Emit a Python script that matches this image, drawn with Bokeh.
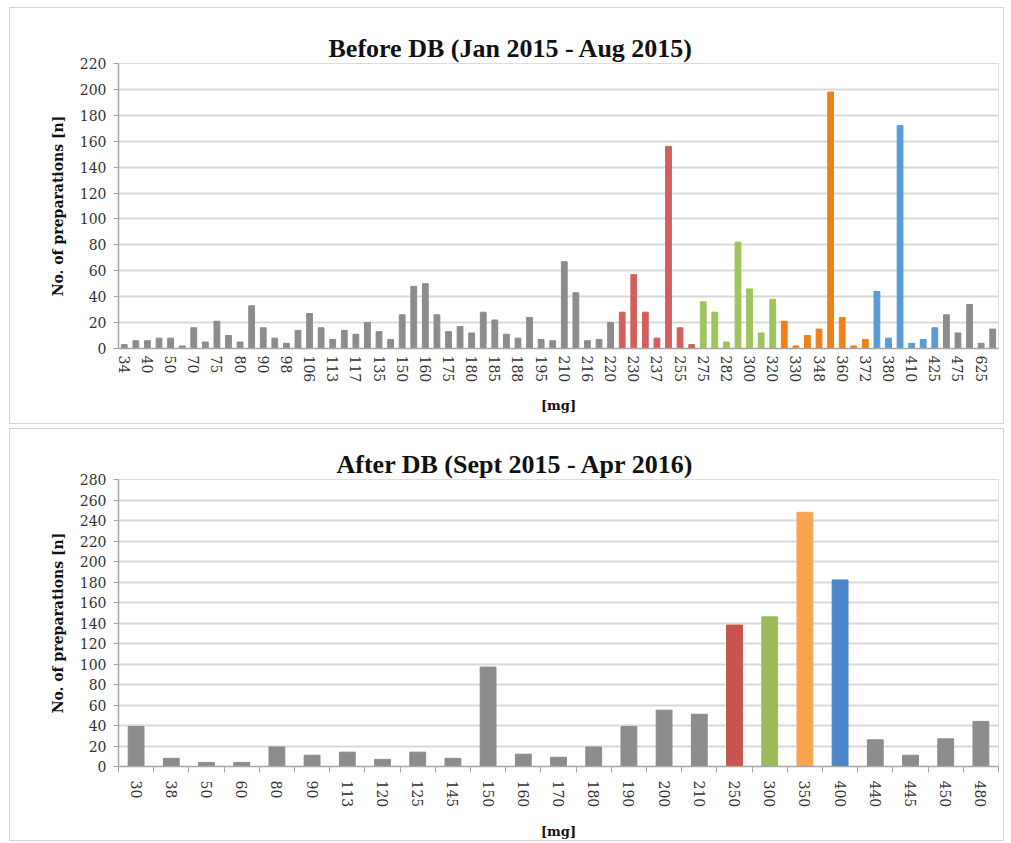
from bokeh.plotting import figure
from bokeh.layouts import column, row
from bokeh.models import FixedTicker, ColumnDataSource, Spacer, Range1d
from bokeh.embed import file_html
from bokeh.resources import INLINE

# ---------------- data: Before DB ----------------
before_values = [3, 6, 6, 8, 8, 2, 16, 5, 21, 10, 5, 33, 16, 8, 4, 14, 27, 16, 7, 14,
                 11, 20, 13, 7, 26, 48, 50, 26, 13, 17, 12, 28, 22, 11, 8, 24, 7, 6, 67, 43,
                 6, 7, 20, 28, 57, 28, 8, 156, 16, 3, 36, 28, 5, 82, 46, 12, 38, 21, 2, 10,
                 15, 198, 24, 2, 7, 44, 8, 172, 4, 7, 16, 26, 12, 34, 4, 15]
before_groups = (["gray"] * 43 + ["red"] * 7 + ["green"] * 7 + ["orange"] * 8
                 + ["blue"] * 6 + ["gray"] * 5)
before_tick_labels = ["34", "40", "50", "70", "75", "80", "90", "98", "106", "113", "117",
                      "135", "150", "160", "175", "180", "185", "188", "195", "210", "216",
                      "220", "230", "237", "255", "275", "282", "300", "320", "330", "348",
                      "360", "372", "380", "410", "425", "475", "625"]

# ---------------- data: After DB ----------------
after_categories = ["30", "38", "50", "60", "80", "90", "113", "120", "125", "145", "150",
                    "160", "170", "180", "190", "200", "210", "250", "300", "350", "400",
                    "440", "445", "450", "480"]
after_values = [39, 8, 4, 4, 19, 11, 14, 7, 14, 8, 97, 12, 9, 19, 39, 55, 51, 138, 146,
                248, 182, 26, 11, 27, 44]
after_groups = ["gray"] * 17 + ["red", "green", "orange", "blue"] + ["gray"] * 4

colors_before = {"gray": "#8c8c8c", "red": "#d0605e", "green": "#9fc45c",
                 "orange": "#f08119", "blue": "#5b9bd5"}
colors_after = {"gray": "#8c8c8c", "red": "#c9544f", "green": "#9bbb59",
                "orange": "#f9a550", "blue": "#4a86c8"}

TICK_FONT = "DejaVu Serif"
GRID = "#d9d9d9"
AXIS = "#a6a6a6"


def style(p, ymax, title_offset):
    p.y_range = Range1d(0, ymax)
    p.yaxis.ticker = FixedTicker(ticks=list(range(0, ymax + 1, 20)))
    p.title.align = "left"
    p.title.offset = title_offset
    p.title.text_font = "Liberation Serif"
    p.title.text_font_style = "bold"
    p.title.text_font_size = "26px"
    p.title.text_color = "#111111"
    p.title.standoff = 2
    p.xgrid.grid_line_color = None
    p.ygrid.grid_line_color = GRID
    p.ygrid.grid_line_width = 2
    p.outline_line_color = "#dddddd"
    for ax in (p.xaxis[0], p.yaxis[0]):
        ax.axis_line_color = AXIS
        ax.axis_line_width = 1.5
        ax.major_label_text_font = TICK_FONT
        ax.major_label_text_font_size = "14px"
        ax.major_label_text_color = "#333333"
        ax.axis_label_text_font = "DejaVu Serif"
        ax.axis_label_text_font_style = "bold"
        ax.axis_label_text_color = "#111111"
        ax.minor_tick_line_color = None
    p.yaxis.major_tick_line_color = AXIS
    p.yaxis.major_tick_out = 5
    p.yaxis.major_tick_in = 0
    p.yaxis.major_label_standoff = 7
    p.yaxis.axis_label = "No. of preparations [n]"
    p.yaxis.axis_label_text_font_size = "14px"
    p.yaxis.axis_label_standoff = 11
    p.xaxis.axis_label = "[mg]"
    p.xaxis.axis_label_text_font_size = "13px"
    p.xaxis.major_label_orientation = "vertical"


panel_style = {"border": "1px solid #d4d4d4"}

# ---------------- top figure ----------------
src1 = ColumnDataSource(dict(x=list(range(len(before_values))), top=before_values,
                             color=[colors_before[g] for g in before_groups]))
p1 = figure(width=995, height=417, output_backend="svg", toolbar_location=None,
            title="Before DB (Jan 2015 - Aug 2015)",
            x_range=Range1d(-0.5, len(before_values) - 0.5),
            min_border_left=108, min_border_right=7, min_border_top=55, min_border_bottom=77,
            background_fill_color="white", border_fill_color="white")
p1.vbar(x="x", top="top", width=0.5, color="color", source=src1)
style(p1, 220, 210)
tick_pos1 = list(range(0, 2 * len(before_tick_labels), 2))
p1.xaxis.ticker = FixedTicker(ticks=tick_pos1)
p1.xaxis.major_label_overrides = {i: lab for i, lab in zip(tick_pos1, before_tick_labels)}
p1.xaxis.major_tick_line_color = None
p1.xaxis.major_tick_out = 0
p1.xaxis.major_label_standoff = 7
p1.xaxis.axis_label_standoff = 13
p1.styles = panel_style

# ---------------- bottom figure ----------------
src2 = ColumnDataSource(dict(x=list(range(len(after_values))), top=after_values,
                             color=[colors_after[g] for g in after_groups]))
p2 = figure(width=995, height=413, output_backend="svg", toolbar_location=None,
            title="After DB (Sept 2015 - Apr 2016)",
            x_range=Range1d(-0.5, len(after_values) - 0.5),
            min_border_left=108, min_border_right=7, min_border_top=50, min_border_bottom=76,
            background_fill_color="white", border_fill_color="white")
p2.vbar(x="x", top="top", width=0.45, color="color", source=src2)
style(p2, 280, 218)
tick_pos2 = list(range(len(after_categories)))
p2.xaxis.ticker = FixedTicker(ticks=tick_pos2,
                              minor_ticks=[k - 0.5 for k in range(len(after_categories) + 1)])
p2.xaxis.major_label_overrides = {i: lab for i, lab in zip(tick_pos2, after_categories)}
p2.xaxis.major_tick_line_color = None
p2.xaxis.major_tick_out = 0
p2.xaxis.minor_tick_line_color = AXIS
p2.xaxis.minor_tick_out = 6
p2.xaxis.minor_tick_in = 0
p2.xaxis.major_label_standoff = 8
p2.xaxis.axis_label_standoff = 14
p2.styles = panel_style

layout = column(Spacer(height=7),
                row(Spacer(width=9), p1),
                Spacer(height=4),
                row(Spacer(width=9), p2))

open("out.html", "w").write(file_html(layout, INLINE))
